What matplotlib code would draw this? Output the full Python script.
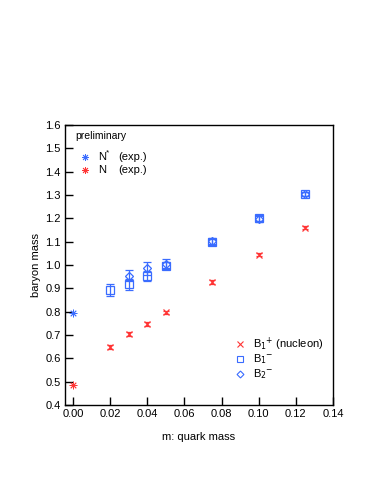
import numpy as np
import matplotlib.pyplot as plt

plt.rcParams['font.family'] = ['Liberation Sans', 'DejaVu Sans']

# B1+ (nucleon)
m_p = [0.02, 0.03, 0.04, 0.05, 0.075, 0.10, 0.125]
b1p = [0.650, 0.704, 0.747, 0.797, 0.927, 1.044, 1.160]
b1p_err = [0.008, 0.008, 0.008, 0.008, 0.008, 0.007, 0.007]

# B1-
m_1 = [0.02, 0.03, 0.04, 0.05, 0.075, 0.10, 0.125]
b1m = [0.893, 0.917, 0.953, 0.997, 1.100, 1.200, 1.305]
b1m_err = [0.027, 0.022, 0.022, 0.016, 0.013, 0.013, 0.010]

# B2-
m_2 = [0.03, 0.04, 0.05, 0.075, 0.10, 0.125]
b2m = [0.955, 0.986, 1.006, 1.104, 1.196, 1.304]
b2m_err = [0.024, 0.027, 0.018, 0.012, 0.012, 0.008]

# experiment
nstar_exp = 0.796
n_exp = 0.486

red = '#ff3535'
blue = '#3a6cff'
ast = (8, 2, 0)

fig = plt.figure(figsize=(3.82, 4.94), dpi=100)
ax = fig.add_axes([0.170, 0.180, 0.702, 0.567])

ax.errorbar(m_p, b1p, yerr=b1p_err, fmt='x', color=red, ms=5, mew=0.9,
            elinewidth=0.9, capsize=2.5, capthick=0.9)
ax.errorbar(m_1, b1m, yerr=b1m_err, fmt='s', mfc='none', mec=blue, ecolor=blue,
            ms=6, mew=0.9, elinewidth=0.9, capsize=3, capthick=0.9)
ax.errorbar(m_2, b2m, yerr=b2m_err, fmt='D', mfc='none', mec=blue, ecolor=blue,
            ms=4, mew=0.9, elinewidth=0.9, capsize=3, capthick=0.9)
ax.plot([0.0], [nstar_exp], marker=ast, color=blue, ms=5.5, mew=0.6, ls='none')
ax.plot([0.0], [n_exp], marker=ast, color=red, ms=5.5, mew=0.6, ls='none')

ax.set_xlim(-0.0043, 0.14)
ax.set_ylim(0.4, 1.6)
ax.set_xticks(np.arange(0, 0.141, 0.02))
ax.set_yticks(np.arange(0.4, 1.61, 0.1))
ax.set_xticklabels(['%.2f' % v for v in np.arange(0, 0.141, 0.02)])
ax.set_yticklabels(['%.1f' % v for v in np.arange(0.4, 1.61, 0.1)])
ax.tick_params(direction='in', length=6, width=1, labelsize=8, pad=3,
               top=False, right=False)
for s in ax.spines.values():
    s.set_linewidth(1)

ax.set_xlabel('m: quark mass', fontsize=8, labelpad=9)
ax.set_ylabel('baryon mass', fontsize=8, labelpad=3)

# upper-left legend
ax.text(0.037, 0.962, 'preliminary', transform=ax.transAxes, fontsize=7.5, va='center')
ax.plot([0.075], [0.885], transform=ax.transAxes, marker=ast, color=blue, ms=5, mew=0.6)
ax.text(0.125, 0.885, 'N', transform=ax.transAxes, fontsize=8, va='center')
ax.text(0.153, 0.902, '*', transform=ax.transAxes, fontsize=6, va='center')
ax.text(0.20, 0.885, '(exp.)', transform=ax.transAxes, fontsize=8, va='center')
ax.plot([0.075], [0.838], transform=ax.transAxes, marker=ast, color=red, ms=5, mew=0.6)
ax.text(0.125, 0.838, 'N', transform=ax.transAxes, fontsize=8, va='center')
ax.text(0.20, 0.838, '(exp.)', transform=ax.transAxes, fontsize=8, va='center')

# lower-right legend
ax.plot([0.653], [0.218], transform=ax.transAxes, marker='x', color=red, ms=5, mew=0.8)
ax.text(0.70, 0.218, 'B$_1$$^{+}$ (nucleon)', transform=ax.transAxes, fontsize=8, va='center')
ax.plot([0.653], [0.164], transform=ax.transAxes, marker='s', mfc='none', mec=blue, ms=5, mew=0.8)
ax.text(0.70, 0.164, 'B$_1$$^{-}$', transform=ax.transAxes, fontsize=8, va='center')
ax.plot([0.653], [0.111], transform=ax.transAxes, marker='D', mfc='none', mec=blue, ms=3.5, mew=0.8)
ax.text(0.70, 0.111, 'B$_2$$^{-}$', transform=ax.transAxes, fontsize=8, va='center')

fig.savefig('out.png', dpi=100)
